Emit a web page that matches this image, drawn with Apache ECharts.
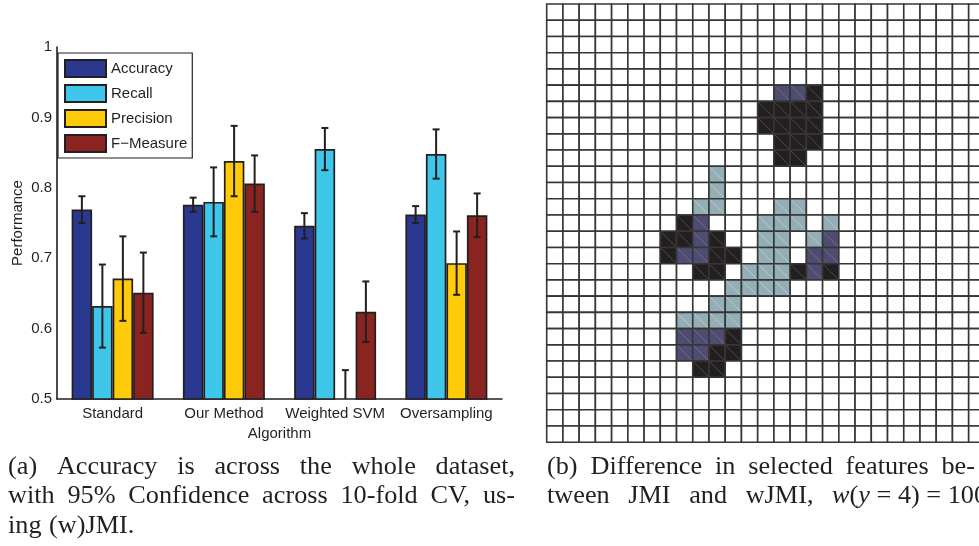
<!DOCTYPE html>
<html>
<head>
<meta charset="utf-8">
<title>(w)JMI performance and selected features</title>
<script src="https://cdn.jsdelivr.net/npm/echarts@6/dist/echarts.min.js"></script>
<style>
  html, body { margin: 0; padding: 0; background: #ffffff; }
  #chart { width: 979px; height: 546px; }
</style>
</head>
<body>
<div id="chart"></div>
<script>
// ---- Panel (a): performance per algorithm, mean with 95% confidence half-width ----
const algorithms = ['Standard', 'Our Method', 'Weighted SVM', 'Oversampling'];
const metricNames = ['Accuracy', 'Recall', 'Precision', 'F\u2212Measure'];
const accuracy    = [0.769, 0.776, 0.746, 0.762];
const accuracyCI  = [0.019, 0.010, 0.018, 0.012];
const recall      = [0.632, 0.780, 0.855, 0.848];
const recallCI    = [0.059, 0.049, 0.030, 0.035];
const precision   = [0.671, 0.838, 0.490, 0.693];
const precisionCI = [0.060, 0.050, 0.051, 0.045];
const fMeasure    = [0.651, 0.806, 0.624, 0.761];
const fMeasureCI  = [0.057, 0.040, 0.043, 0.031];
const yTicks = [0.5, 0.6, 0.7, 0.8, 0.9, 1];

// ---- Panel (b): feature grid; runs of [row, first column, codes] ----
// k = selected by both, p = JMI only, b = wJMI only, . = not selected
const gridCols = 28;
const gridRows = 27;
const featureRuns = [
  [5, 14, 'ppk'],
  [6, 13, 'kkkk'],
  [7, 13, 'kkkk'],
  [8, 14, 'kkk'],
  [9, 14, 'kk'],
  [10, 10, 'b'],
  [11, 10, 'b'],
  [12, 9, 'bb'], [12, 14, 'bb'],
  [13, 8, 'kp...bbb.b'],
  [14, 7, 'kkpk..bb.bp'],
  [15, 7, 'kppkk.bb.pp'],
  [16, 9, 'kk.bbbkpk'],
  [17, 11, 'bbbb'],
  [18, 10, 'bb'],
  [19, 8, 'bbbb'],
  [20, 8, 'pppk'],
  [21, 8, 'ppkk'],
  [22, 9, 'kk']
];

// ---- Styling / layout ----
const INK = '#231f20';
const SANS = '"Liberation Sans", Arial, sans-serif';
const SERIF = '"Liberation Serif", "Times New Roman", serif';
const metricColors = ['#2b388f', '#3ec7eb', '#ffcb08', '#8a2420'];
const cellFill = { k: '#231f20', p: '#4e4c70', b: '#94aeb6' };
const cellDiag = { k: '#5d5a5b', p: '#7c7a9a', b: '#c4d5db' };
const BAR_W = 20.5;
const CELL = 16.23;              // cell size in px
const GRID_LEFT = 546.7;
const GRID_WIDTH = 979 - GRID_LEFT;  // grid runs off the right edge of the page

const metricValues = [accuracy, recall, precision, fMeasure];
const metricCI = [accuracyCI, recallCI, precisionCI, fMeasureCI];

// Full cell table for the grid
const cellCode = [];
for (let r = 0; r < gridRows; r++) {
  cellCode.push(new Array(gridCols).fill('.'));
}
featureRuns.forEach(([r, c0, codes]) => {
  for (let i = 0; i < codes.length; i++) cellCode[r][c0 + i] = codes[i];
});
const cellData = [];
for (let r = 0; r < gridRows; r++) {
  for (let c = 0; c < gridCols; c++) cellData.push([c, r]);
}

// Bar series
const barSeries = metricNames.map((name, s) => ({
  name: name,
  type: 'bar',
  xAxisIndex: 0,
  yAxisIndex: 0,
  data: metricValues[s],
  barWidth: BAR_W,
  barGap: '0%',
  clip: true,
  itemStyle: { color: metricColors[s], borderColor: INK, borderWidth: 1.7 },
  emphasis: { disabled: true },
  z: 2
}));

// Error bars, offset to sit on the matching bar
const errorSeries = metricNames.map((name, s) => ({
  type: 'custom',
  xAxisIndex: 0,
  yAxisIndex: 0,
  clip: true,
  silent: true,
  z: 5,
  data: metricValues[s].map((v, i) => [i, v, metricCI[s][i]]),
  renderItem: function (params, api) {
    const i = api.value(0), v = api.value(1), ci = api.value(2);
    const mid = api.coord([i, v]);
    const x = mid[0] + (s - 1.5) * BAR_W;
    const yTop = api.coord([i, v + ci])[1];
    const yBot = api.coord([i, v - ci])[1];
    const cap = 3.5;
    const st = { stroke: INK, lineWidth: 2 };
    return {
      type: 'group',
      children: [
        { type: 'line', shape: { x1: x, y1: yTop, x2: x, y2: yBot }, style: st },
        { type: 'line', shape: { x1: x - cap, y1: yTop, x2: x + cap, y2: yTop }, style: st },
        { type: 'line', shape: { x1: x - cap, y1: yBot, x2: x + cap, y2: yBot }, style: st }
      ]
    };
  }
}));

// Grid cells
const cellSeries = {
  type: 'custom',
  xAxisIndex: 1,
  yAxisIndex: 1,
  silent: true,
  clip: false,
  data: cellData,
  renderItem: function (params, api) {
    const c = api.value(0), r = api.value(1);
    const code = cellCode[r][c];
    const p0 = api.coord([c, r]);
    const p1 = api.coord([c + 1, r + 1]);
    const x = p0[0], y = p0[1], w = p1[0] - p0[0], h = p1[1] - p0[1];
    const children = [{
      type: 'rect',
      shape: { x: x, y: y, width: w, height: h },
      style: { fill: code === '.' ? '#ffffff' : cellFill[code], stroke: '#363636', lineWidth: 1.6 }
    }];
    if (code !== '.') {
      children.push({
        type: 'line',
        shape: { x1: x + 1, y1: y + 1, x2: x + w - 1, y2: y + h - 1 },
        style: { stroke: cellDiag[code], lineWidth: 0.7 }
      });
    }
    return { type: 'group', children: children };
  }
};

// Caption text, justified word by word
const CAP_SIZE = 25;
const CAP_SCALE = 1.05;
const measureCtx = document.createElement('canvas').getContext('2d');
measureCtx.font = CAP_SIZE + 'px ' + SERIF;
const plain = s => s.replace(/\{i\|([^}]*)\}/g, '$1');
const wordWidth = w => measureCtx.measureText(plain(w)).width * CAP_SCALE;
const capStyle = t => ({
  text: t, fontSize: CAP_SIZE, fontFamily: SERIF, fill: INK, align: 'left', verticalAlign: 'middle',
  rich: { i: { fontStyle: 'italic', fontSize: CAP_SIZE, fontFamily: SERIF, fill: INK } }
});
function captionLine(words, x0, x1, yMid) {
  const widths = words.map(wordWidth);
  const total = widths.reduce((a, b) => a + b, 0);
  const gap = x1 == null ? CAP_SIZE * 0.3 : (x1 - x0 - total) / (words.length - 1);
  const out = [];
  let x = x0;
  words.forEach((w, i) => {
    out.push({ type: 'text', x: x, y: yMid, scaleX: CAP_SCALE, silent: true, style: capStyle(w) });
    x += widths[i] + gap;
  });
  return out;
}

const captions = [].concat(
  captionLine(['(a)', 'Accuracy', 'is', 'across', 'the', 'whole', 'dataset,'], 8, 515, 467.5),
  captionLine(['with', '95%', 'Confidence', 'across', '10-fold', 'CV,', 'us-'], 8, 515, 496.5),
  captionLine(['ing', '(w)JMI.'], 8, null, 526.5),
  captionLine(['(b)', 'Difference', 'in', 'selected', 'features', 'be-'], 547, 975, 467.5),
  captionLine(['tween', 'JMI', 'and', 'wJMI,', '{i|w}({i|y} = 4) = 100'], 547, 990, 496.5)
);

const chart = echarts.init(document.getElementById('chart'), null, { renderer: 'canvas' });
chart.setOption({
  animation: false,
  backgroundColor: '#ffffff',
  textStyle: { fontFamily: SANS },
  grid: [
    { left: 57, top: 47, width: 445, height: 352, containLabel: false },
    { left: GRID_LEFT, top: 4, width: GRID_WIDTH, height: gridRows * CELL, containLabel: false }
  ],
  legend: {
    data: metricNames,
    orient: 'vertical',
    left: 58,
    top: 53,
    itemWidth: 41,
    itemHeight: 17,
    itemGap: 6,
    padding: [6, 5, 5, 6],
    backgroundColor: '#ffffff',
    borderColor: INK,
    borderWidth: 1.2,
    borderRadius: 0,
    icon: 'rect',
    selectedMode: false,
    textStyle: { fontSize: 15, fontFamily: SANS, color: INK }
  },
  xAxis: [
    {
      gridIndex: 0,
      type: 'category',
      data: algorithms,
      boundaryGap: true,
      name: 'Algorithm',
      nameLocation: 'middle',
      nameGap: 27,
      nameTextStyle: { fontSize: 15, fontFamily: SANS, color: INK },
      axisLine: { show: true, lineStyle: { color: INK, width: 1.6 } },
      axisTick: { show: false },
      axisLabel: { interval: 0, fontSize: 15, fontFamily: SANS, color: INK, margin: 7 },
      splitLine: { show: false }
    },
    { gridIndex: 1, type: 'value', min: 0, max: GRID_WIDTH / CELL, show: false }
  ],
  yAxis: [
    {
      gridIndex: 0,
      type: 'value',
      min: yTicks[0],
      max: yTicks[yTicks.length - 1],
      interval: 0.1,
      name: 'Performance',
      nameLocation: 'middle',
      nameGap: 32,
      nameTextStyle: { fontSize: 15, fontFamily: SANS, color: INK },
      axisLine: { show: true, lineStyle: { color: INK, width: 1.6 } },
      axisTick: { show: false },
      axisLabel: { fontSize: 15, fontFamily: SANS, color: INK, margin: 5 },
      splitLine: { show: false }
    },
    { gridIndex: 1, type: 'value', min: 0, max: gridRows, inverse: true, show: false }
  ],
  series: [].concat(barSeries, errorSeries, [cellSeries]),
  graphic: captions
});
</script>
</body>
</html>
